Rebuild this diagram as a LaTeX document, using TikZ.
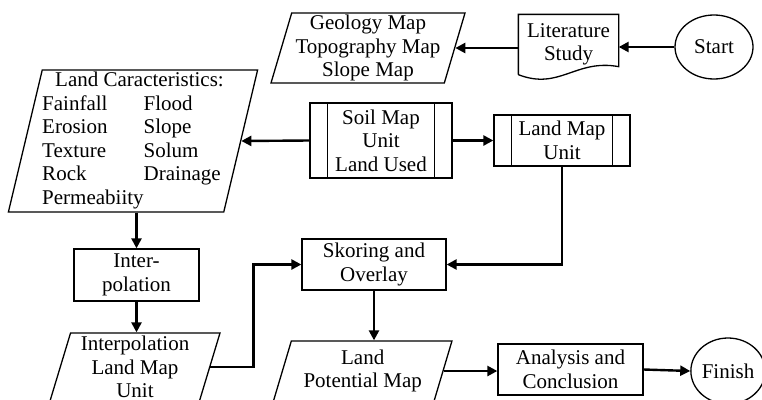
\documentclass[tikz,border=0pt]{standalone}
\usepackage{fontspec}
\setmainfont{Liberation Serif}
\usetikzlibrary{shapes.geometric,arrows.meta}

\tikzset{
  proc/.style={draw, rectangle, align=center, inner sep=0pt},
  subproc/.style={proc, append after command={
      ([xshift=18pt]\tikzlastnode.north west) edge ([xshift=18pt]\tikzlastnode.south west)
      ([xshift=-18pt]\tikzlastnode.north east) edge ([xshift=-18pt]\tikzlastnode.south east)}},
  dataio/.style 2 args={draw, trapezium, trapezium left angle=#1, trapezium right angle=#2,
      trapezium stretches body, align=center, inner sep=0pt},
  term/.style={draw, ellipse, inner sep=0pt},
  flow/.style={line width=2.4pt, -{Triangle[length=10pt,width=10pt]}}
}

\begin{document}
\begin{tikzpicture}[x=1pt,y=-1pt,line width=1.3pt,font=\fontsize{21}{23.5}\selectfont]
        \path[use as bounding box, clip] (0,0) rectangle (762,399);

        % top row
        \node[term, minimum width=78, minimum height=64] (start) at (714, 47) {Start};
        \node[align=center, inner sep=0pt, minimum width=99, minimum height=59] (lit) at (568.5, 44.5) {Literature\\Study};
        \draw (lit.south west) -- (lit.north west) -- (lit.north east) -- ([yshift=8pt]lit.south east)
              .. controls ([xshift=-43pt,yshift=16pt]lit.south east) and ([xshift=41pt,yshift=-16pt]lit.south west) .. (lit.south west);
        \node[dataio={72.6}{107.4}, minimum width=194, minimum height=70] (geo) at (368, 48) {Geology Map\\Topography Map\\Slope Map};

        % middle row
        \node[dataio={76.5}{103.5}, minimum width=248, minimum height=142] (lchar) at (133, 141) {%
            \begin{tabular}{@{}l@{}l@{}}
              \multicolumn{2}{@{\hspace{13pt}}l@{}}{Land Caracteristics:}\\
              Fainfall & Flood\\
              Erosion & Slope\\
              Texture & Solum\\
              Rock & Drainage\\
              Permeabiity &
            \end{tabular}};
        \node[subproc, minimum width=142, minimum height=75] (soil) at (381, 140.5) {Soil Map\\Unit\\Land Used};
        \node[subproc, minimum width=136, minimum height=51] (lmap) at (562, 140.5) {Land Map\\Unit};

        % lower rows
        \node[proc, minimum width=125, minimum height=52] (inter) at (136.5, 275) {Inter-\\polation};
        \node[dataio={71.6}{108.4}, minimum width=170, minimum height=68] (ipl) at (135, 367) {Interpolation\\Land Map\\Unit};
        \node[proc, minimum width=144, minimum height=51] (skor) at (374, 264.5) {Skoring and\\Overlay};
        \node[dataio={67.2}{112.8}, minimum width=178.5, minimum height=60] (lpot) at (362.7, 371) {Land\\Potential Map};
        \node[proc, minimum width=145, minimum height=51] (ana) at (570.5, 369.5) {Analysis and\\Conclusion};
        \node[term, minimum width=70, minimum height=66] (fin) at (728, 371) {Finish};

        \draw[flow] (start.west) -- (start.west -| lit.east);
        \draw[flow] (lit.west |- geo.east) -- (geo.east);
        \draw[flow] (soil.west) -- (lchar.east);
        \draw[flow] (soil.east) -- (lmap.west);
        \draw[flow] (lmap.south) |- (skor.east);
        \draw[flow] (lchar.south -| inter.north) -- (inter.north);
        \draw[flow] (inter.south) -- (inter.south |- ipl.north);
        \draw[flow] (ipl.east) -- ++(43,0) |- (skor.west);
        \draw[flow] (skor.south) -- (skor.south |- lpot.north);
        \draw[flow] (lpot.east) -- (lpot.east -| ana.west);
        \draw[flow] (ana.east) -- (fin.west);

    \end{tikzpicture}
\end{document}
